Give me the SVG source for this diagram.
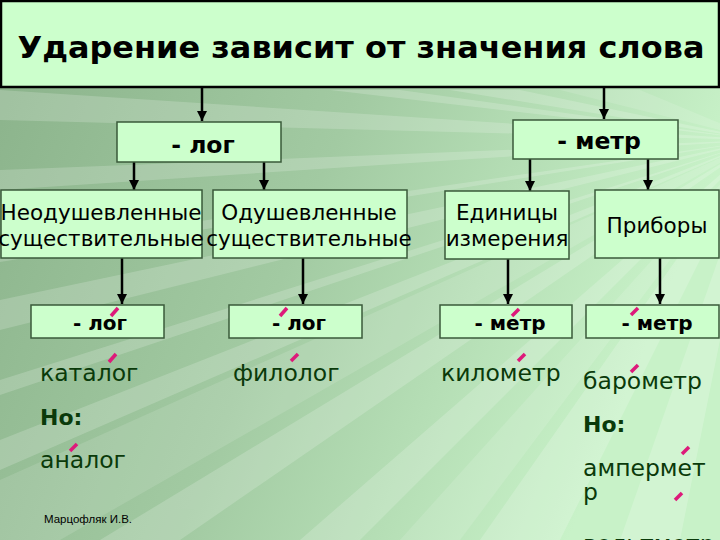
<svg xmlns="http://www.w3.org/2000/svg" width="720" height="540" viewBox="0 0 720 540">
<defs>
<linearGradient id="bg" x1="0" y1="0" x2="1" y2="0.3">
<stop offset="0" stop-color="#8ab28a"/>
<stop offset="0.5" stop-color="#a2caa2"/>
<stop offset="1" stop-color="#c8f2c8"/>
</linearGradient>
<marker id="ah" viewBox="0 0 10 10" refX="10" refY="5" markerWidth="4" markerHeight="4" orient="auto" markerUnits="strokeWidth">
<path d="M0,0 L10,5 L0,10 z" fill="#000"/>
</marker>
<style>
.box{fill:#ccffcc;stroke:#3a5a3a;stroke-width:1.5}
.nt{font-family:"DejaVu Sans",sans-serif;font-size:21.5px;fill:#000;text-anchor:middle}
.bt{font-family:"DejaVu Sans",sans-serif;font-size:20px;font-weight:bold;fill:#000;text-anchor:middle}
.bt2{font-family:"DejaVu Sans",sans-serif;font-size:23.5px;font-weight:bold;fill:#000;text-anchor:middle}
.w{font-family:"DejaVu Sans",sans-serif;font-size:23.5px;fill:#0a3a0a}
.wb{font-family:"DejaVu Sans",sans-serif;font-size:22px;font-weight:bold;fill:#0a3a0a}
.st{stroke:#dd1a7a;stroke-width:3.5;stroke-linecap:butt}
.ar{stroke:#000;stroke-width:2.5;fill:none;marker-end:url(#ah)}
.ray{fill:#ffffff}
</style>
</defs>
<rect width="720" height="540" fill="url(#bg)"/>
<g opacity="0.18">
<polygon class="ray" points="760,140 0,90 0,120"/>
<polygon class="ray" points="760,140 0,170 0,190"/>
<polygon class="ray" points="760,140 0,250 0,262"/>
<polygon class="ray" points="760,140 0,380 0,395"/>
<polygon class="ray" points="760,140 300,540 360,540"/>
<polygon class="ray" points="760,140 480,540 560,540"/>
<polygon class="ray" points="760,140 620,540 680,540"/>
<polygon class="ray" points="760,140 330,90 400,90"/>
<polygon class="ray" points="760,140 450,90 520,90"/>
<polygon class="ray" points="760,140 0,300 0,330"/>
<polygon class="ray" points="760,140 0,440 0,470"/>
<polygon class="ray" points="760,140 100,540 180,540"/>
</g>
<g opacity="0.12">
<polygon class="ray" points="760,140 0,480 0,540 60,540"/>
<polygon class="ray" points="760,140 400,540 460,540"/>
<polygon class="ray" points="760,140 560,90 640,90"/>
</g>

<g id="title">
<rect x="1" y="1" width="718" height="86" fill="#ccffcc" stroke="#000" stroke-width="2.5"/>
<text x="361" y="58" font-family="DejaVu Sans,sans-serif" font-size="31" font-weight="bold" text-anchor="middle" fill="#000" textLength="687" lengthAdjust="spacingAndGlyphs">Ударение зависит от значения слова</text>
</g>

<g id="connectors">
<line class="ar" x1="202" y1="88" x2="202" y2="121"/>
<line class="ar" x1="604" y1="88" x2="604" y2="119"/>
<line class="ar" x1="134" y1="162" x2="134" y2="190"/>
<line class="ar" x1="264" y1="162" x2="264" y2="190"/>
<line class="ar" x1="530" y1="159" x2="530" y2="191"/>
<line class="ar" x1="648" y1="159" x2="648" y2="190"/>
<line class="ar" x1="122" y1="258" x2="122" y2="304"/>
<line class="ar" x1="303" y1="258" x2="303" y2="304"/>
<line class="ar" x1="508" y1="259" x2="508" y2="304"/>
<line class="ar" x1="660" y1="258" x2="660" y2="304"/>
</g>

<g id="log">
<rect class="box" x="117" y="122" width="164" height="40"/>
<text class="bt2" x="203" y="153">- лог</text>
</g>
<g id="metr">
<rect class="box" x="513" y="120" width="165" height="39"/>
<text class="bt2" x="599" y="149">- метр</text>
</g>

<g id="neodush">
<rect class="box" x="1" y="190" width="201" height="68"/>
<text class="nt" x="101" y="220">Неодушевленные</text>
<text class="nt" x="101" y="246">существительные</text>
</g>
<g id="odush">
<rect class="box" x="213" y="190" width="194" height="68"/>
<text class="nt" x="309" y="220">Одушевленные</text>
<text class="nt" x="309" y="246">существительные</text>
</g>
<g id="edinicy">
<rect class="box" x="445" y="191" width="124" height="68"/>
<text class="nt" x="507" y="220">Единицы</text>
<text class="nt" x="507" y="246">измерения</text>
</g>
<g id="pribory">
<rect class="box" x="595" y="190" width="124" height="68"/>
<text class="nt" x="657" y="233">Приборы</text>
</g>

<g id="log1">
<rect class="box" x="31" y="305" width="133" height="33"/>
<text class="bt" x="100" y="330">- лог</text>
<line class="st" x1="111" y1="316" x2="118" y2="308"/>
</g>
<g id="log2">
<rect class="box" x="229" y="305" width="133" height="33"/>
<text class="bt" x="299" y="330">- лог</text>
<line class="st" x1="280" y1="316" x2="287" y2="308"/>
</g>
<g id="metr1">
<rect class="box" x="440" y="305" width="132" height="33"/>
<text class="bt" x="510" y="330">- метр</text>
<line class="st" x1="512" y1="316" x2="519" y2="309"/>
</g>
<g id="metr2">
<rect class="box" x="586" y="305" width="133" height="33"/>
<text class="bt" x="657" y="330">- метр</text>
<line class="st" x1="631" y1="315" x2="638" y2="308"/>
</g>

<g id="examples">
<text class="w" x="40" y="381">каталог</text>
<line class="st" x1="109" y1="362" x2="116" y2="354"/>
<text class="wb" x="40" y="425">Но:</text>
<text class="w" x="40" y="468">аналог</text>
<line class="st" x1="70" y1="451" x2="77" y2="444"/>
<text class="w" x="233" y="381">филолог</text>
<line class="st" x1="291" y1="361" x2="298" y2="354"/>
<text class="w" x="441" y="381">километр</text>
<line class="st" x1="518" y1="361" x2="525" y2="354"/>
<text class="w" x="583" y="389">барометр</text>
<line class="st" x1="631" y1="372" x2="638" y2="365"/>
<text class="wb" x="583" y="432">Но:</text>
<text class="w" x="583" y="476">ампермет</text>
<line class="st" x1="682" y1="454" x2="689" y2="447"/>
<text class="w" x="583" y="500">р</text>
<line class="st" x1="675" y1="500" x2="682" y2="493"/>
<text class="w" x="583" y="552">вольтметр</text>
</g>

<text x="44" y="523" font-family="Liberation Sans,sans-serif" font-size="11.5" fill="#000">Марцофляк И.В.</text>
</svg>
